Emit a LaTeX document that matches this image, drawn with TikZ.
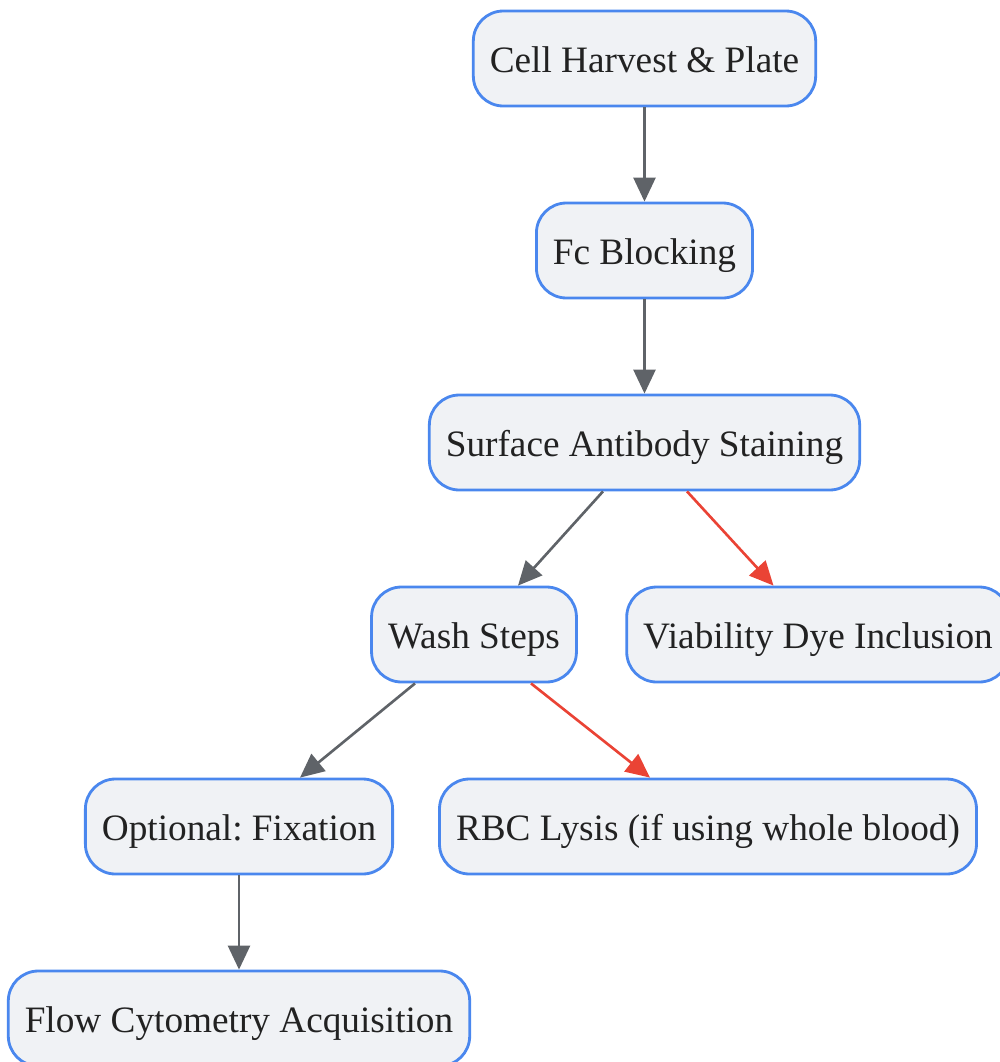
\documentclass[tikz,border=0pt]{standalone}
\usepackage{fontspec}
\setmainfont{Liberation Serif}
\usetikzlibrary{arrows.meta,positioning}

\definecolor{boxfill}{HTML}{F0F2F5}
\definecolor{boxline}{HTML}{4A87EE}
\definecolor{flowgray}{HTML}{5F6368}
\definecolor{flowred}{HTML}{EA4335}
\definecolor{txt}{HTML}{222222}

\tikzset{
  stepbox/.style={draw=boxline, fill=boxfill, line width=1.6pt, rounded corners=0.6cm,
    minimum height=1.9cm, inner xsep=0.33cm, text height=17pt, text depth=1pt, text=txt,
    font=\fontsize{21.2}{25}\selectfont\frenchspacing},
  grayflow/.style={draw=flowgray, line width=1.5pt, -{Triangle[length=0.48cm,width=0.44cm]}},
  redflow/.style={draw=flowred, line width=1.5pt, -{Triangle[length=0.48cm,width=0.44cm]}}
}

\begin{document}
\begin{tikzpicture}

	\useasboundingbox (0,0) rectangle (20,-21.24);
	
	\node[stepbox] (harvest) at (12.89,-1.17) {Cell Harvest \& Plate};
	\node[stepbox] (fcblock) at (12.89,-5.01) {Fc Blocking};
	\node[stepbox] (surface) at (12.89,-8.85) {Surface Antibody Staining};
	\node[stepbox] (wash) at (9.48,-12.69) {Wash Steps};
	\node[stepbox] (viab) at (16.36,-12.69) {Viability Dye Inclusion};
	\node[stepbox] (fix) at (4.78,-16.53) {Optional: Fixation};
	\node[stepbox] (rbc) at (14.16,-16.53) {RBC Lysis (if using whole blood)};
	\node[stepbox] (flow) at (4.78,-20.37) {Flow Cytometry Acquisition};
	
	\draw[grayflow] (harvest) -- (fcblock);
	\draw[grayflow] (fcblock) -- (surface);
	\draw[grayflow] ([xshift=-0.83cm]surface.south) -- ([xshift=0.88cm]wash.north);
	\draw[redflow] ([xshift=0.85cm]surface.south) -- ([xshift=-0.89cm]viab.north);
	\draw[grayflow] ([xshift=-1.18cm]wash.south) -- ([xshift=1.22cm]fix.north);
	\draw[redflow] ([xshift=1.14cm]wash.south) -- ([xshift=-1.16cm]rbc.north);
	\draw[grayflow] (fix) -- (flow);

\end{tikzpicture}
\end{document}
